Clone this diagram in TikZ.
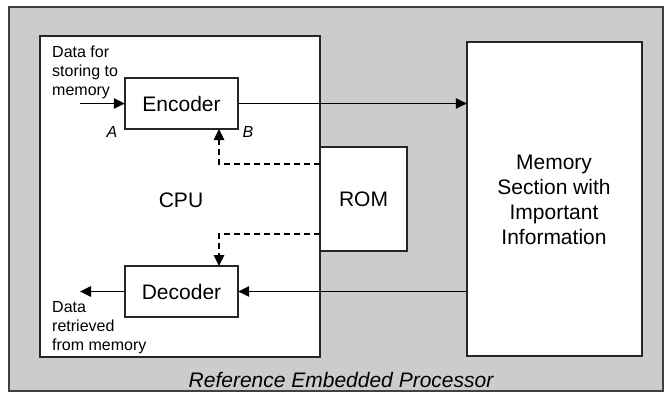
\documentclass[tikz,border=0pt]{standalone}
\usepackage{fontspec}
\setmainfont{Liberation Sans}
\usetikzlibrary{arrows.meta}
\begin{document}
\begin{tikzpicture}[x=1pt,y=-1pt,
  box/.style={draw=black!85,fill=white,line width=1.1pt},
  lbl/.style={inner sep=0pt,font=\fontsize{21}{25}\selectfont},
  small/.style={inner sep=0pt,font=\fontsize{16}{19}\selectfont,align=left},
  flow/.style={line width=1.1pt,-{Triangle[length=11pt,width=10.5pt]}},
  ctrl/.style={flow,dash pattern=on 6pt off 4pt}]
\useasboundingbox (0,0) rectangle (666,394);
% embedded processor frame
\draw[fill=black!20,draw=black!75,line width=1.3pt] (9,7) rectangle (663,391);
\node[lbl,font=\fontsize{21}{25}\selectfont\itshape] (cap) at (341,380) {Reference Embedded Processor};
% CPU block and its parts
\draw[box] (40,36) rectangle (320,357);
\node[lbl] (cpu) at (181,200) {CPU};
\draw[box] (125,78) rectangle (238,129);
\node (enc) [inner sep=0pt,minimum width=113pt,minimum height=51pt] at (181.5,103.5) {};
\node[lbl] at (enc) {Encoder};
\draw[box] (125,266) rectangle (238,317);
\node (dec) [inner sep=0pt,minimum width=113pt,minimum height=51pt] at (181.5,291.5) {};
\node[lbl] at (dec) {Decoder};
% ROM and memory
\draw[box] (320,147) rectangle (407,251);
\node (rom) [inner sep=0pt,minimum width=87pt,minimum height=104pt] at (363.5,199) {};
\node[lbl] at (rom) {ROM};
\draw[box] (467,42) rectangle (642,356);
\node (mem) [inner sep=0pt,minimum width=175pt,minimum height=314pt] at (554.5,199) {};
\node[lbl,align=center] at (554,199.5) {Memory\\Section with\\Important\\Information};
% labels
\node[small,anchor=north west] (din) at (52,45.5) {Data for\\storing to\\memory};
\node[small,anchor=north west] (dout) at (52,301.5) {Data\\retrieved\\from memory};
\node[small,font=\fontsize{16}{19}\selectfont\itshape] (a) at (112,132) {A};
\node[small,font=\fontsize{16}{19}\selectfont\itshape] (b) at (248,132) {B};
% data paths
\coordinate (inpt) at (80,103.5);
\coordinate (outpt) at (80,291.5);
\draw[flow] (inpt) -- (enc.west);
\draw[flow] (enc.east) -- (mem.west |- enc.east);
\draw[flow] (mem.west |- dec.east) -- (dec.east);
\draw[flow] (dec.west) -- (outpt);
% control from ROM
\draw[ctrl] (rom.west |- 0,164) -| (219,129);
\draw[ctrl] (rom.west |- 0,234) -| (219,266);
\end{tikzpicture}
\end{document}
